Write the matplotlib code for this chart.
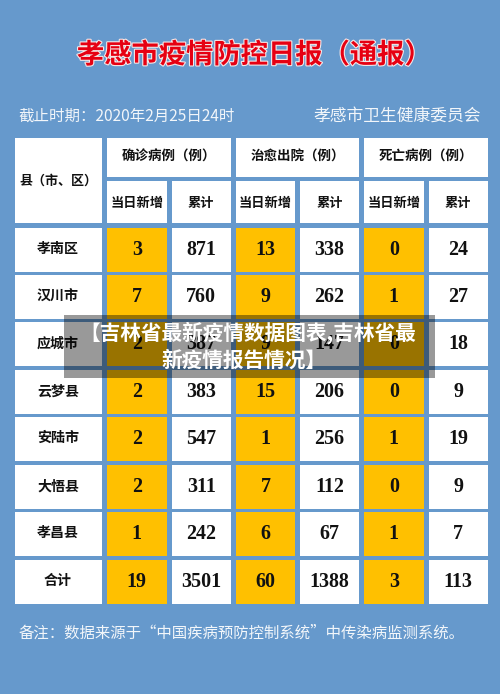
import matplotlib
matplotlib.use("Agg")
import matplotlib.pyplot as plt
from matplotlib.patches import Rectangle
import matplotlib.patheffects as pe

counties = ["孝南区", "汉川市", "应城市", "云梦县", "安陆市", "大悟县", "孝昌县", "合计"]
confirmed_new = [3, 7, 2, 2, 2, 2, 1, 19]
confirmed_total = [871, 760, 387, 383, 547, 311, 242, 3501]
cured_new = [13, 9, 9, 15, 1, 7, 6, 60]
cured_total = [338, 262, 147, 206, 256, 112, 67, 1388]
death_new = [0, 1, 0, 0, 1, 0, 1, 3]
death_total = [24, 27, 18, 9, 19, 9, 7, 113]
groups = ["确诊病例（例）", "治愈出院（例）", "死亡病例（例）"]
subheads = ["当日新增", "累计"]
title = "孝感市疫情防控日报（通报）"
date_text = "截止时期：2020年2月25日24时"
org_text = "孝感市卫生健康委员会"
note_text = "备注：数据来源于“中国疾病预防控制系统”中传染病监测系统。"
overlay_lines = ["【吉林省最新疫情数据图表,吉林省最", "新疫情报告情况】"]

BG = "#6699cc"
GOLD = "#ffc000"
CJK = ["Noto Sans CJK SC", "DejaVu Sans"]
NUM = ["Liberation Serif", "DejaVu Serif"]

fig = plt.figure(figsize=(5, 6.94), dpi=100, facecolor=BG)
ax = fig.add_axes([0, 0, 1, 1])
ax.set_xlim(0, 500)
ax.set_ylim(694, 0)
ax.axis("off")

def px(s):
    return s * 0.72

def cell(x0, x1, y0, y1, color="white"):
    ax.add_patch(Rectangle((x0, y0), x1 - x0, y1 - y0, fc=color, ec="none", zorder=1))

def label(x, y, s, size=13, color="#111111", family=CJK, weight="bold", ha="center", zorder=3):
    return ax.text(x, y, s, fontsize=px(size), color=color, family=family, weight=weight,
                   ha=ha, va="center", zorder=zorder)

t = label(254, 55, title, size=27.3, color="#e60012")
t.set_path_effects([pe.withStroke(linewidth=1.6, foreground="#f4e8e8")])

label(18, 116, date_text, size=15.5, color="#f2f6fa", weight="normal", ha="left")
label(481, 116, org_text, size=16.8, color="#f2f6fa", weight="normal", ha="right")

cols = [(107, 166.5), (171.5, 231), (236, 295), (300, 359), (364, 423.5), (428.5, 488)]
tops = [228, 275, 322, 370, 417, 465, 512, 560]
H = 43.5

# header
cell(15, 101.5, 138, 223)
label(58, 181, "县（市、区）", size=13)
for g, name in enumerate(groups):
    x0, x1 = cols[g * 2][0], cols[g * 2 + 1][1]
    cell(x0, x1, 138, 177)
    label((x0 + x1) / 2, 157, name, size=13.5)
    for k, sub in enumerate(subheads):
        a, b = cols[g * 2 + k]
        cell(a, b, 181, 223)
        label((a + b) / 2, 202.5, sub, size=13.2)

# body
series = [confirmed_new, confirmed_total, cured_new, cured_total, death_new, death_total]
for r, (name, top) in enumerate(zip(counties, tops)):
    cell(15, 101.5, top, top + H)
    label(58, top + H / 2 - 0.5, name, size=14)
    for c, vals in enumerate(series):
        a, b = cols[c]
        cell(a, b, top, top + H, GOLD if c % 2 == 0 else "white")
        label((a + b) / 2, top + H / 2 + 0.5, str(vals[r]), size=20, family=NUM)

label(19, 633, note_text, size=15.4, color="#f2f6fa", weight="normal", ha="left")

# translucent caption
ax.add_patch(Rectangle((64, 315), 371, 63, fc="black", alpha=0.4, ec="none", zorder=4))
for x, y, s in zip([248, 244], [333, 360], overlay_lines):
    label(x, y, s, size=20.7, color="white", zorder=5)

fig.savefig("out.png", dpi=100, facecolor=BG)
